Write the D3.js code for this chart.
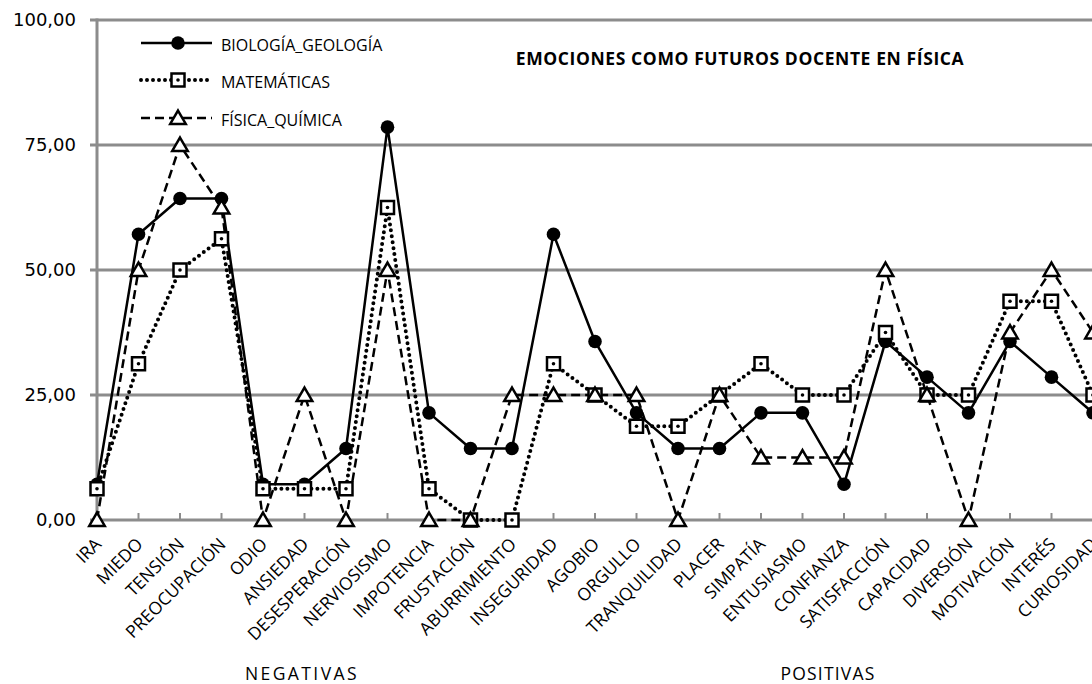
<!DOCTYPE html>
<html><head><meta charset="utf-8">
<script src="https://cdn.jsdelivr.net/npm/d3@7"></script>
<style>body{margin:0;background:#fff;overflow:hidden}svg{display:block}</style>
</head><body><svg id="c" width="1092" height="684"></svg>
<script>
const categories = ["IRA","MIEDO","TENSIÓN","PREOCUPACIÓN","ODIO","ANSIEDAD","DESESPERACIÓN","NERVIOSISMO","IMPOTENCIA","FRUSTACIÓN","ABURRIMIENTO","INSEGURIDAD","AGOBIO","ORGULLO","TRANQUILIDAD","PLACER","SIMPATÍA","ENTUSIASMO","CONFIANZA","SATISFACCIÓN","CAPACIDAD","DIVERSIÓN","MOTIVACIÓN","INTERÉS","CURIOSIDAD"];
const biologia = [7.14,57.14,64.29,64.29,7.14,7.14,14.29,78.57,21.43,14.29,14.29,57.14,35.71,21.43,14.29,14.29,21.43,21.43,7.14,35.71,28.57,21.43,35.71,28.57,21.43];
const matematicas = [6.25,31.25,50,56.25,6.25,6.25,6.25,62.5,6.25,0,0,31.25,25,18.75,18.75,25,31.25,25,25,37.5,25,25,43.75,43.75,25];
const fisica = [0,50,75,62.5,0,25,0,50,0,0,25,25,25,25,0,25,12.5,12.5,12.5,50,25,0,37.5,50,37.5];
const yTicks = [0,25,50,75,100];
const seriesNames = ["BIOLOGÍA_GEOLOGÍA","MATEMÁTICAS","FÍSICA_QUÍMICA"];
const title = "EMOCIONES COMO FUTUROS DOCENTE EN FÍSICA";
const groupLabels = ["NEGATIVAS","POSITIVAS"];

const svg = d3.select("#c");
const x = d3.scalePoint().domain(categories).range([97,1093]);
const y = d3.scaleLinear().domain([0,100]).range([520,20]);
const grid = "#8c8c8c";
const fmt = v => d3.format(".2f")(v).replace(".", ",");

svg.append("g").selectAll("line").data(yTicks).join("line")
  .attr("x1",90).attr("x2",1092).attr("y1",d=>y(d)).attr("y2",d=>y(d))
  .attr("stroke",grid).attr("stroke-width",3);
svg.append("line").attr("x1",97).attr("x2",97).attr("y1",y(100)-1.5).attr("y2",y(0)+1.5)
  .attr("stroke",grid).attr("stroke-width",3);
svg.append("g").selectAll("line").data(categories).join("line")
  .attr("x1",d=>x(d)).attr("x2",d=>x(d)).attr("y1",y(0)).attr("y2",y(0)-7)
  .attr("stroke",grid).attr("stroke-width",2);
svg.append("g").selectAll("text").data(yTicks).join("text")
  .attr("x",76).attr("y",d=>y(d)).attr("dy","0.36em").attr("text-anchor","end")
  .attr("font-family","DejaVu Sans").attr("font-size",18).attr("fill","#000")
  .text(fmt);
svg.append("g").selectAll("text").data(categories).join("text")
  .attr("transform",d=>`translate(${x(d)+1},${y(0)+21}) rotate(-45)`)
  .attr("text-anchor","end").attr("dy","0.35em")
  .attr("font-family","Open Sans").attr("font-size",17.5).attr("fill","#000")
  .text(d=>d);
svg.append("text").attr("x",302).attr("y",680).attr("text-anchor","middle")
  .attr("font-family","Open Sans").attr("font-size",17.5).attr("letter-spacing",2.4).text(groupLabels[0]);
svg.append("text").attr("x",828).attr("y",680).attr("text-anchor","middle")
  .attr("font-family","Open Sans").attr("font-size",17.5).attr("letter-spacing",1.2).text(groupLabels[1]);
svg.append("text").attr("x",740).attr("y",65).attr("text-anchor","middle")
  .attr("font-family","Open Sans").attr("font-weight","bold").attr("font-size",17.5).attr("letter-spacing",0.6).text(title);

const styles = [
  {data:biologia, dash:null, width:2.5, cap:"butt", marker:"circle"},
  {data:matematicas, dash:"0,6", width:4, cap:"round", marker:"square"},
  {data:fisica, dash:"9,5", width:2.5, cap:"butt", marker:"triangle"}
];
const line = d3.line().x((d,i)=>x(categories[i])).y(d=>y(d));

function drawMarker(g, type, cx, cy){
  if(type==="circle"){
    g.append("circle").attr("cx",cx).attr("cy",cy).attr("r",6.8).attr("fill","#000");
  } else if(type==="square"){
    g.append("rect").attr("x",cx-6.5).attr("y",cy-6.5).attr("width",13).attr("height",13)
      .attr("fill","#fff").attr("stroke","#000").attr("stroke-width",2.5);
    g.append("circle").attr("cx",cx).attr("cy",cy).attr("r",1.8).attr("fill","#000");
  } else {
    const p = d3.symbol().type(d3.symbolTriangle).size(105);
    g.append("path").attr("d",p()).attr("transform",`translate(${cx},${cy+1.5})`)
      .attr("fill","#fff").attr("stroke","#000").attr("stroke-width",2.5);
  }
}

const plot = svg.append("g");
styles.forEach(s=>{
  plot.append("path").datum(s.data).attr("d",line).attr("fill","none")
    .attr("stroke","#000").attr("stroke-width",s.width).attr("stroke-linecap",s.cap)
    .attr("stroke-linejoin","round").attr("stroke-dasharray",s.dash);
});
styles.forEach(s=>{
  const g = plot.append("g");
  s.data.forEach((v,i)=>drawMarker(g, s.marker, x(categories[i]), y(v)));
});

const legY = [43,80,118];
styles.forEach((s,i)=>{
  const g = svg.append("g");
  g.append("line").attr("x1",141).attr("x2",212).attr("y1",legY[i]).attr("y2",legY[i])
    .attr("stroke","#000").attr("stroke-width",s.width).attr("stroke-linecap",s.cap).attr("stroke-dasharray",s.dash);
  drawMarker(g, s.marker, 178, legY[i]);
  g.append("text").attr("x",221).attr("y",legY[i]+2).attr("dy","0.35em")
    .attr("font-family","Open Sans").attr("font-size",16).text(seriesNames[i]);
});
</script></body></html>
